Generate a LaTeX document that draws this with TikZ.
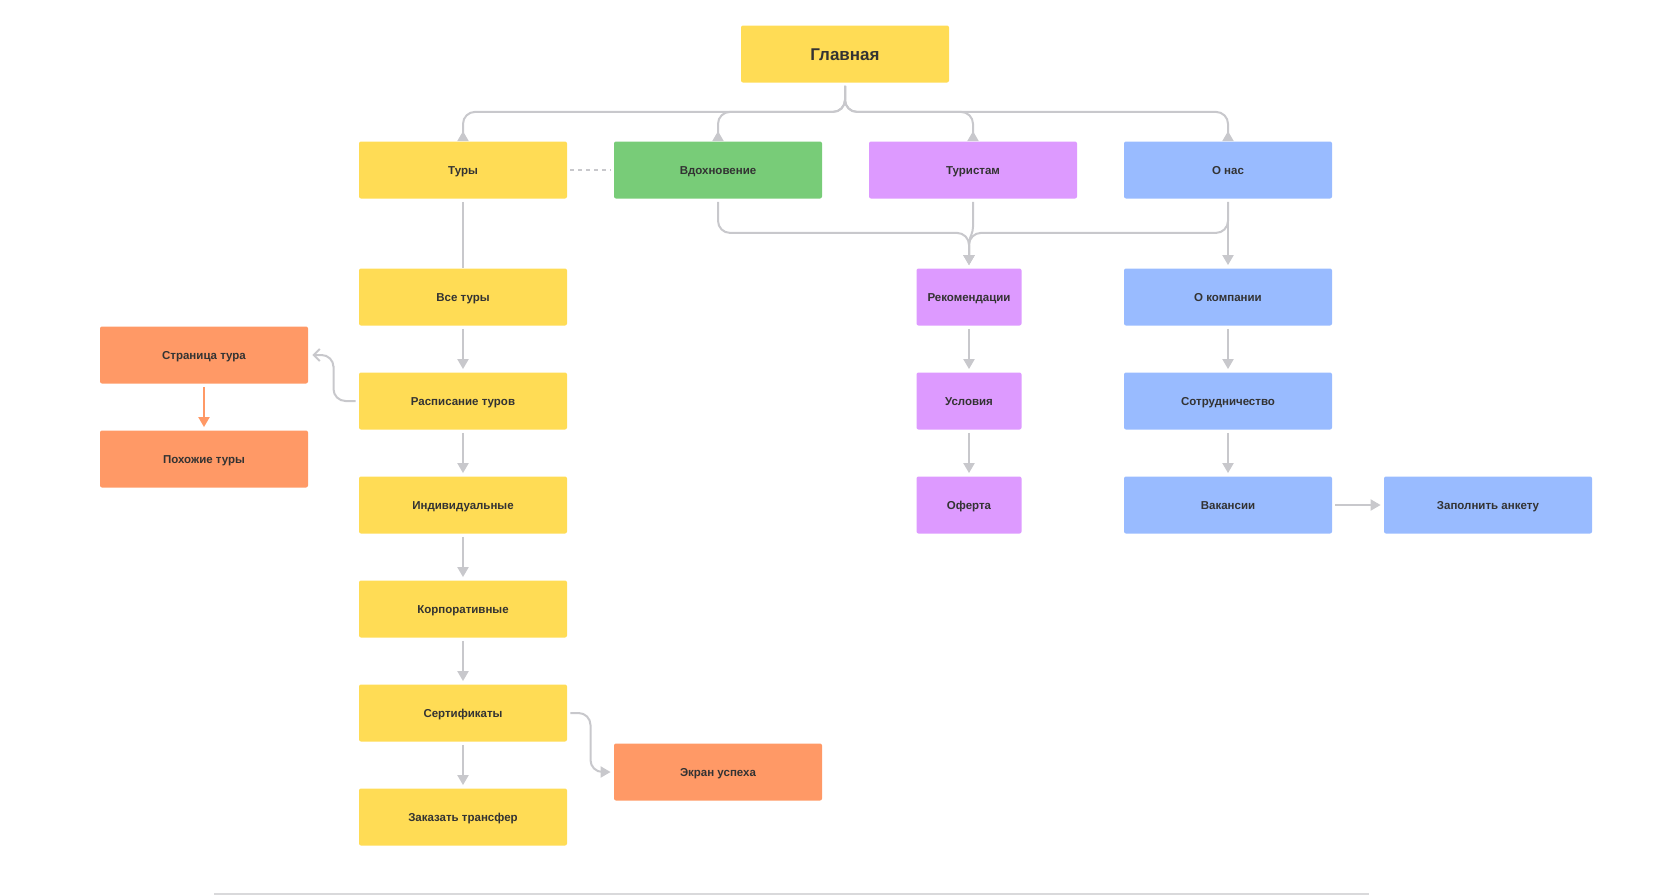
\documentclass[tikz,border=0pt]{standalone}
\usepackage{fontspec}
\setmainfont{Liberation Sans}
\usetikzlibrary{arrows.meta,calc}

\definecolor{cyel}{RGB}{255,220,85}
\definecolor{cgrn}{RGB}{120,204,120}
\definecolor{cpur}{RGB}{221,154,255}
\definecolor{cblu}{RGB}{153,187,255}
\definecolor{corg}{RGB}{255,153,102}
\definecolor{lgray}{RGB}{200,200,204}
\definecolor{tgray}{RGB}{51,51,51}

\tikzset{
  box/.style={rectangle, rounded corners=1pt, minimum width=104pt, minimum height=28.5pt,
    inner sep=0pt, text height=4.1pt, text depth=0pt, text=tgray,
    font=\bfseries\fontsize{5.75}{7}\selectfont},
  yel/.style={box, fill=cyel},
  grn/.style={box, fill=cgrn},
  pur/.style={box, fill=cpur},
  blu/.style={box, fill=cblu},
  org/.style={box, fill=corg},
  link/.style={draw=lgray, line width=1pt, rounded corners=6pt, shorten <=1.5pt},
  arr/.style={link, -{Triangle[length=5pt,width=5.5pt]}, shorten >=1.5pt},
  uparr/.style={link, -{Triangle[reversed,length=5pt,width=5.5pt]}},
}

\begin{document}
\begin{tikzpicture}[x=0.5pt, y=-0.5pt, node distance=52pt]
\useasboundingbox (0,0) rectangle (1680,895);

% top level
\node[yel, text height=6.1pt, font=\bfseries\fontsize{8.5}{10}\selectfont] (glav) at (845,54) {Главная};
\node[yel] (tury) at (463,170) {Туры};
\node[grn, right of=tury, node distance=127.5pt] (vdoh) {Вдохновение};
\node[pur, right of=vdoh, node distance=127.5pt] (turist) {Туристам};
\node[blu, right of=turist, node distance=127.5pt] (onas) {О нас};

% tours column
\node[yel] (vse) at (463,297) {Все туры};
\node[yel, below of=vse] (rasp) {Расписание туров};
\node[yel, below of=rasp] (ind) {Индивидуальные};
\node[yel, below of=ind] (korp) {Корпоративные};
\node[yel, below of=korp] (sert) {Сертификаты};
\node[yel, below of=sert] (zak) {Заказать трансфер};
\node[org] (strana) at (204,355) {Страница тура};
\node[org, below of=strana] (poh) {Похожие туры};
\node[org] (ekran) at (718,772) {Экран успеха};

% tourists column
\node[pur, minimum width=52.5pt] (rek) at (969,297) {Рекомендации};
\node[pur, minimum width=52.5pt, below of=rek] (usl) {Условия};
\node[pur, minimum width=52.5pt, below of=usl] (ofer) {Оферта};

% about column
\node[blu, below of=onas, node distance=63.5pt] (ocomp) {О компании};
\node[blu, below of=ocomp] (sotr) {Сотрудничество};
\node[blu, below of=sotr] (vak) {Вакансии};
\node[blu, right of=vak, node distance=130pt] (zapoln) {Заполнить анкету};

% main tree
\draw[uparr] (glav.south) -- ++(0,29) -| (tury.north);
\draw[uparr] (glav.south) -- ++(0,29) -| (vdoh.north);
\draw[uparr] (glav.south) -- ++(0,29) -| (turist.north);
\draw[uparr] (glav.south) -- ++(0,29) -| (onas.north);
\draw[link, dashed, line width=0.7pt, dash pattern=on 2pt off 2pt, shorten >=1.5pt] (tury.east) -- (vdoh.west);

% merge into recommendations
\draw[arr] (vdoh.south) -- ++(0,34) -| (rek.north);
\draw[arr] (onas.south) -- ++(0,34) -| (rek.north);
\draw[arr, rounded corners=2pt] (turist.south) -- ++(0,32) -- ($(rek.north)+(0,-28)$) -- (rek.north);
\draw[arr] (rek) -- (usl);
\draw[arr] (usl) -- (ofer);

% about
\draw[arr] (onas.south) -- (ocomp.north);
\draw[arr] (ocomp) -- (sotr);
\draw[arr] (sotr) -- (vak);
\draw[arr] (vak) -- (zapoln);

% tours
\draw[link] (tury.south) -- (vse.north);
\draw[arr] (vse) -- (rasp);
\draw[arr] (rasp) -- (ind);
\draw[arr] (ind) -- (korp);
\draw[arr] (korp) -- (sert);
\draw[arr] (sert) -- (zak);
\draw[link, -{Straight Barb[length=3pt,width=6pt]}, shorten >=2pt]
  (rasp.west) -| ($(rasp.west)!0.5!(strana.east)$) |- (strana.east);
\draw[arr, draw=corg] (strana) -- (poh);
\draw[arr] (sert.east) -| ($(sert.east)!0.5!(ekran.west)$) |- (ekran.west);

\draw[line width=1pt, draw=lgray!70] (214,894) -- (1369,894);
\end{tikzpicture}
\end{document}
